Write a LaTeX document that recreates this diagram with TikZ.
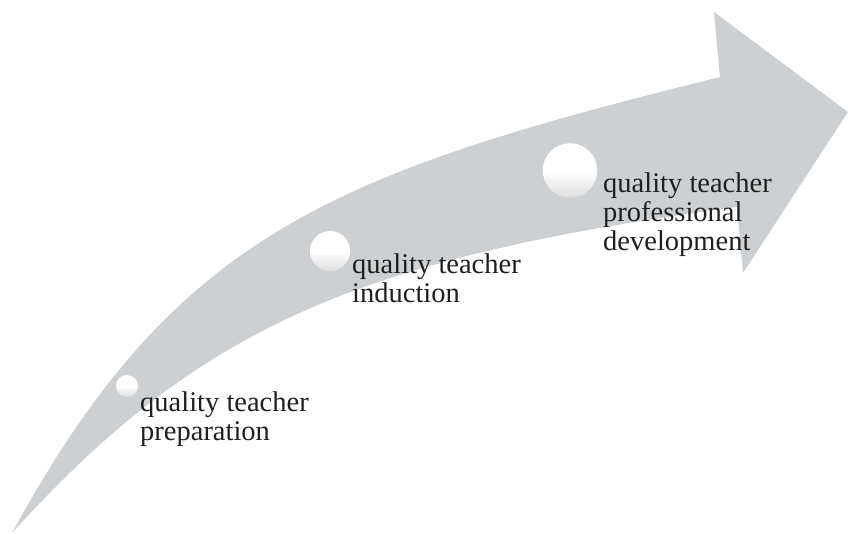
\documentclass[tikz,border=0pt]{standalone}
\usepackage{fontspec}
\setmainfont{Liberation Serif}
\definecolor{arrowgray}{RGB}{205,208,211}
\definecolor{ballgray}{RGB}{222,222,222}
\pgfdeclareverticalshading{ballshade}{100bp}{color(0bp)=(ballgray); color(25bp)=(ballgray); color(50bp)=(white); color(100bp)=(white)}
\tikzset{
  ball/.style={circle, draw=none, inner sep=0pt, shading=ballshade},
  label/.style={anchor=base west, align=left, inner sep=0pt,
    font=\fontsize{28.5}{29}\selectfont, text=black!88}
}
\begin{document}
\begin{tikzpicture}[x=1pt,y=-1pt]
\useasboundingbox (0,0) rectangle (848,534);
% curved arrow
\fill[arrowgray] (12,533) .. controls (175,234) and (332,173) .. (720,77)
  -- (714,12) -- (848,112) -- (743,273) -- (737,207)
  .. controls (360,257.5) and (199.6,325.8) .. (12,533) -- cycle;
% circles
\node[ball, minimum size=22pt] (c1) at (127,386) {};
\node[ball, minimum size=40pt] (c2) at (330,251) {};
\node[ball, minimum size=54.5pt] (c3) at (570,170.5) {};
% labels (base anchor = baseline of the last line)
\node[label] (t1) at (140,440.5) {quality teacher\\preparation};
\node[label] (t2) at (352,302.5) {quality teacher\\induction};
\node[label] (t3) at (603,250.7) {quality teacher\\professional\\development};
\end{tikzpicture}
\end{document}
